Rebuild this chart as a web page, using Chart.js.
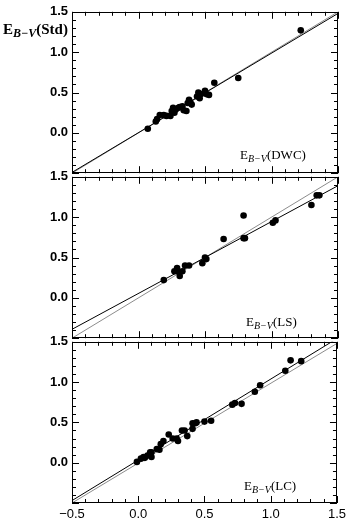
<!DOCTYPE html>
<html>
<head>
<meta charset="utf-8">
<script src="https://cdn.jsdelivr.net/npm/chart.js@4.4.0/dist/chart.umd.min.js"></script>
<style>
  body { margin: 0; background: #fff; width: 350px; height: 522px; position: relative; overflow: hidden; }
  canvas { position: absolute; left: 0; }
</style>
</head>
<body>
<canvas id="pDWC" style="top:0px" width="350" height="185"></canvas>
<canvas id="pLS" style="top:165px" width="350" height="185"></canvas>
<canvas id="pLC" style="top:330px" width="350" height="192"></canvas>
<script>
// E(B-V) from the standard catalogue (y) against three other estimates (x)
const dwcX = [0.07, 0.13, 0.14, 0.16, 0.19, 0.21, 0.24, 0.25, 0.26, 0.27, 0.28, 0.30, 0.31, 0.33, 0.34,
  0.36, 0.37, 0.38, 0.39, 0.40, 0.44, 0.45, 0.46, 0.47, 0.50, 0.51, 0.53, 0.57, 0.75, 1.22];
const dwcStd = [0.05, 0.14, 0.17, 0.22, 0.22, 0.21, 0.21, 0.27, 0.31, 0.25, 0.29, 0.31, 0.32, 0.33, 0.28,
  0.27, 0.37, 0.41, 0.38, 0.35, 0.45, 0.50, 0.43, 0.48, 0.52, 0.48, 0.47, 0.62, 0.68, 1.27];

const lsX = [0.19, 0.27, 0.29, 0.29, 0.31, 0.33, 0.35, 0.38, 0.48, 0.50, 0.51, 0.64, 0.79, 0.79, 0.80,
  1.01, 1.03, 1.30, 1.34, 1.36];
const lsStd = [0.22, 0.33, 0.37, 0.33, 0.27, 0.33, 0.40, 0.40, 0.43, 0.50, 0.48, 0.73, 1.02, 0.74, 0.74,
  0.93, 0.96, 1.15, 1.27, 1.27];

const lcX = [-0.01, 0.02, 0.04, 0.05, 0.07, 0.09, 0.10, 0.10, 0.14, 0.16, 0.17, 0.19, 0.23, 0.26, 0.29,
  0.30, 0.33, 0.35, 0.37, 0.41, 0.41, 0.43, 0.44, 0.50, 0.55, 0.71, 0.73, 0.78, 0.88, 0.92, 1.11, 1.15, 1.23];
const lcStd = [0.01, 0.05, 0.07, 0.06, 0.09, 0.13, 0.07, 0.13, 0.17, 0.16, 0.23, 0.27, 0.35, 0.30, 0.30,
  0.27, 0.40, 0.40, 0.33, 0.42, 0.49, 0.49, 0.50, 0.51, 0.52, 0.72, 0.74, 0.73, 0.88, 0.96, 1.14, 1.27, 1.26];

// fitted line (black) and one-to-one line (grey), y values at x = -0.5 and 1.5
const lineX = [-0.5, 1.5];
const dwcFit = [-0.49, 1.48];
const dwcRef = [-0.5, 1.5];
const lsFit = [-0.39, 1.39];
const lsRef = [-0.5, 1.5];
const lcFit = [-0.47, 1.54];
const lcRef = [-0.5, 1.48];

const axisMin = -0.5;
const axisMax = 1.5;

function pts(xs, ys) {
  return xs.map((x, i) => ({ x: x, y: ys[i] }));
}

function fmt(v) {
  return Number(v).toFixed(1).replace('-', '\u2212');
}

// E_{B-V}(name) with italic subscript
function drawEbv(ctx, x, y, name, bold, size) {
  const w = bold ? 'bold ' : '';
  const sub = Math.round(size * 0.78);
  ctx.fillStyle = '#000';
  ctx.textAlign = 'left';
  ctx.textBaseline = 'alphabetic';
  ctx.font = w + size + 'px "Liberation Serif"';
  ctx.fillText('E', x, y);
  x += ctx.measureText('E').width;
  ctx.font = 'italic ' + w + sub + 'px "Liberation Serif"';
  ctx.fillText('B\u2212V', x, y + 3);
  x += ctx.measureText('B\u2212V').width;
  ctx.font = w + size + 'px "Liberation Serif"';
  ctx.fillText('(' + name + ')', x, y);
}

// frame with inward ticks on all sides + panel texts
const framePlugin = {
  id: 'frame',
  afterDraw(chart, args, opts) {
    const { ctx, chartArea: a, scales } = chart;
    ctx.save();
    ctx.strokeStyle = '#000';
    ctx.lineWidth = 1;
    ctx.strokeRect(Math.round(a.left) + 0.5, Math.round(a.top) + 0.5,
      Math.round(a.right - a.left) - 1, Math.round(a.bottom - a.top) - 1);
    ctx.beginPath();
    for (let i = 0; i <= 20; i++) {
      const v = axisMin + i * 0.1;
      const len = i % 5 === 0 ? 7 : 4;
      const px = Math.round(scales.x.getPixelForValue(v)) + 0.5;
      ctx.moveTo(px, a.bottom); ctx.lineTo(px, a.bottom - len);
      ctx.moveTo(px, a.top); ctx.lineTo(px, a.top + len);
      const py = Math.round(scales.y.getPixelForValue(v)) + 0.5;
      ctx.moveTo(a.left, py); ctx.lineTo(a.left + len, py);
      ctx.moveTo(a.right, py); ctx.lineTo(a.right - len, py);
    }
    ctx.stroke();
    drawEbv(ctx, opts.labelX, opts.labelY, opts.label, false, 13);
    if (opts.yTitle) drawEbv(ctx, 3, 34, 'Std', true, 15);
    ctx.restore();
  }
};

function makePanel(id, xs, ys, fit, ref, label, labelX, labelY, yTitle, showX) {
  new Chart(document.getElementById(id), {
    type: 'scatter',
    data: {
      datasets: [
        {
          data: pts(xs, ys),
          backgroundColor: '#000',
          borderColor: '#000',
          pointRadius: 3.3,
          pointBorderWidth: 0,
        },
        {
          type: 'line',
          data: pts(lineX, fit),
          borderColor: '#000',
          borderWidth: 1,
          pointRadius: 0,
        },
        {
          type: 'line',
          data: pts(lineX, ref),
          borderColor: '#8c8c8c',
          borderWidth: 1,
          pointRadius: 0,
        },
      ],
    },
    options: {
      responsive: false,
      animation: false,
      devicePixelRatio: 1,
      layout: { padding: { top: 10, right: 12, bottom: showX ? 0 : 10, left: 0 } },
      plugins: {
        legend: { display: false },
        tooltip: { enabled: false },
        frame: { label: label, labelX: labelX, labelY: labelY, yTitle: yTitle },
      },
      scales: {
        x: {
          type: 'linear',
          min: axisMin,
          max: axisMax,
          grid: { display: false, drawTicks: false },
          border: { display: false },
          afterFit: (s) => { s.height = showX ? 19 : 0; },
          ticks: {
            display: showX,
            stepSize: 0.5,
            padding: 4,
            color: '#000',
            font: { family: '"Liberation Sans"', size: 13 },
            callback: (v) => fmt(v),
          },
        },
        y: {
          type: 'linear',
          min: axisMin,
          max: axisMax,
          grid: { display: false, drawTicks: false },
          border: { display: false },
          afterFit: (s) => { s.width = 72; },
          ticks: {
            stepSize: 0.5,
            padding: 4,
            color: '#000',
            font: { family: '"Liberation Sans"', size: 13, weight: 'bold' },
            callback: (v) => (Math.abs(v - axisMin) < 1e-6 ? '' : fmt(v)),
          },
        },
      },
    },
    plugins: [framePlugin],
  });
}

makePanel('pDWC', dwcX, dwcStd, dwcFit, dwcRef, 'DWC', 240, 159, true, false);
makePanel('pLS', lsX, lsStd, lsFit, lsRef, 'LS', 246, 161, false, false);
makePanel('pLC', lcX, lcStd, lcFit, lcRef, 'LC', 244, 160, false, true);
</script>
</body>
</html>
